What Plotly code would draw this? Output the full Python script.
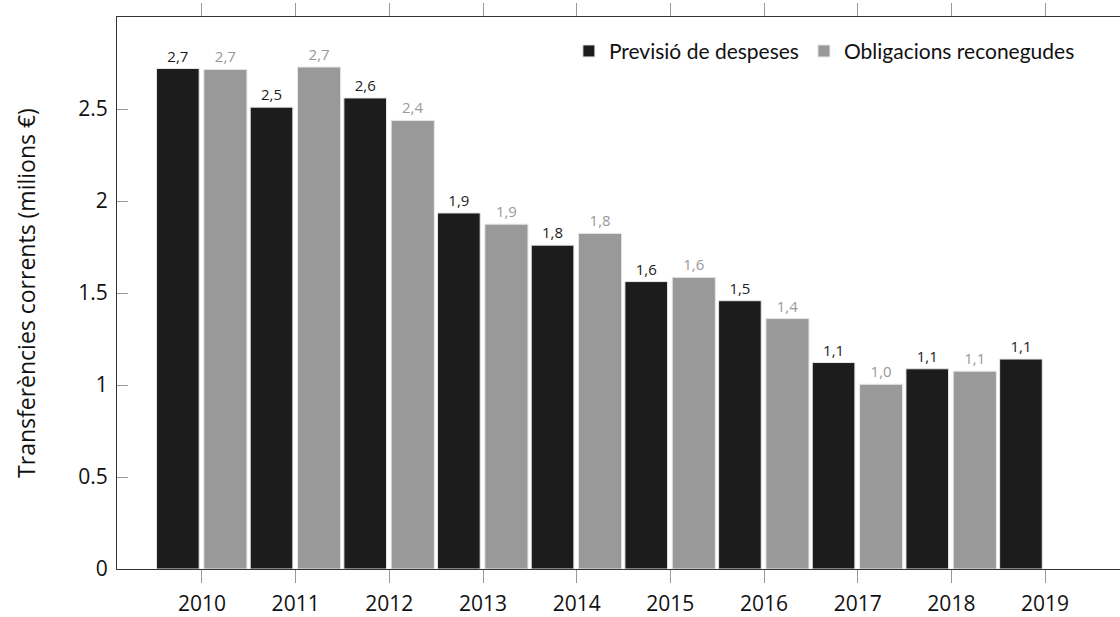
'''
    Bar chart of current transfers (millions of euros), budgeted vs
    recognised obligations, 2010-2019.
'''

import plotly.graph_objects as go

YEARS = [2010, 2011, 2012, 2013, 2014, 2015, 2016, 2017, 2018, 2019]
PREVISIO = [2.72, 2.51, 2.56, 1.935, 1.76, 1.562, 1.458, 1.122, 1.088, 1.141]
OBLIGACIONS_YEARS = [2010, 2011, 2012, 2013, 2014, 2015, 2016, 2017, 2018]
OBLIGACIONS = [2.715, 2.728, 2.438, 1.874, 1.824, 1.585, 1.361, 1.004, 1.075]

BLACK = '#1c1c1c'
GREY = '#999999'


def label(values):
    '''Formats values with one decimal and a comma separator.'''
    return [f'{v:.1f}'.replace('.', ',') for v in values]


fig = go.Figure()

fig.add_trace(go.Bar(
    x=YEARS,
    y=PREVISIO,
    name='Previsió de despeses',
    marker=dict(color=BLACK, line=dict(color='#e6e6e6', width=1)),
    offset=-0.485,
    width=0.455,
    text=label(PREVISIO),
    textposition='outside',
    textfont=dict(family='Open Sans', size=15, color=BLACK),
    cliponaxis=False,
))

fig.add_trace(go.Bar(
    x=OBLIGACIONS_YEARS,
    y=OBLIGACIONS,
    name='Obligacions reconegudes',
    marker=dict(color=GREY, line=dict(color='#e6e6e6', width=1)),
    offset=0.02,
    width=0.46,
    text=label(OBLIGACIONS),
    textposition='outside',
    textfont=dict(family='Open Sans', size=15, color=GREY),
    cliponaxis=False,
))

fig.update_layout(
    width=1120,
    height=617,
    margin=dict(l=117, r=0, t=17, b=40),
    plot_bgcolor='white',
    paper_bgcolor='white',
    font=dict(family='Open Sans', color='#111111'),
    showlegend=True,
    legend=dict(
        orientation='h',
        x=0.96,
        xanchor='right',
        y=0.975,
        yanchor='top',
        bgcolor='rgba(0,0,0,0)',
        font=dict(family='Lato', size=21, color='#111111'),
        itemwidth=30,
        traceorder='normal',
    ),
    xaxis=dict(
        range=[2009.093, 2019.8],
        tickvals=YEARS,
        ticktext=[str(y) for y in YEARS],
        ticks='outside',
        ticklen=13,
        tickcolor='#999999',
        ticklabelstandoff=3,
        showline=True,
        linecolor='#333333',
        linewidth=1,
        mirror='ticks',
        showgrid=False,
        zeroline=False,
        tickfont=dict(family='Open Sans', size=21),
    ),
    yaxis=dict(
        range=[0, 3.0],
        tickvals=[0, 0.5, 1, 1.5, 2, 2.5],
        ticktext=['0', '0.5', '1', '1.5', '2', '2.5'],
        ticks='inside',
        ticklen=11,
        tickcolor='#999999',
        ticklabelstandoff=4,
        showline=True,
        linecolor='#333333',
        linewidth=1,
        showgrid=False,
        zeroline=False,
        tickfont=dict(family='Open Sans', size=21),
        title=dict(
            text='Transferències corrents (milions €)',
            font=dict(family='Open Sans', size=23),
            standoff=36,
        ),
    ),
)

# drop the default body margin so the figure fills the window exactly
fig.write_html(
    'out.html',
    config={'displayModeBar': False},
    post_script=(
        "document.body.style.margin='0';"
        "document.body.style.overflow='hidden';"
        "document.documentElement.style.overflow='hidden';"
    ),
)
